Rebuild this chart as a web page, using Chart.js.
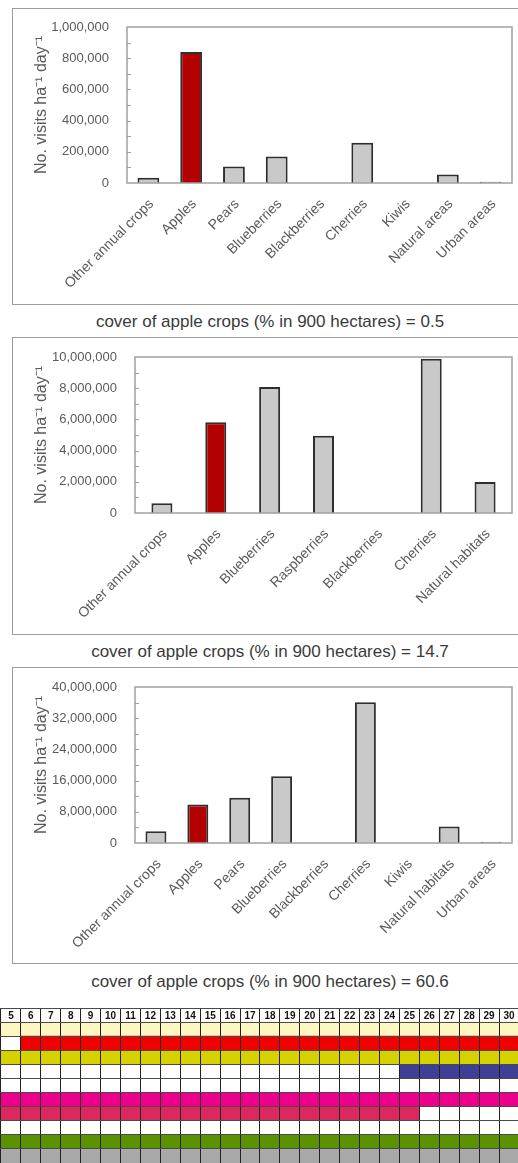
<!DOCTYPE html>
<html>
<head>
<meta charset="utf-8">
<script src="https://cdn.jsdelivr.net/npm/chart.js@4.4.1/dist/chart.umd.min.js"></script>
<style>
  html, body { margin: 0; padding: 0; background: #fff; }
  body { position: relative; width: 518px; height: 1163px; overflow: hidden; font-family: "Liberation Sans", Arial, sans-serif; }
  .box { position: absolute; left: 12px; width: 530px; border: 1.5px solid #9c9c9c; box-sizing: border-box; }
  .cap { position: absolute; left: 12px; width: 516px; text-align: center; font-size: 17px; line-height: 20px; color: #3a3a3a; }
  canvas { position: absolute; }
</style>
</head>
<body>

<div class="box" style="top:8px; height:297px;"></div>
<canvas id="c05" width="506" height="295" style="left:12px; top:9px;"></canvas>
<div class="cap" style="top:312px;">cover of apple crops (% in 900 hectares) = 0.5</div>

<div class="box" style="top:337px; height:298px;"></div>
<canvas id="c147" width="506" height="296" style="left:12px; top:338px;"></canvas>
<div class="cap" style="top:642px;">cover of apple crops (% in 900 hectares) = 14.7</div>

<div class="box" style="top:667px; height:297px;"></div>
<canvas id="c606" width="506" height="295" style="left:12px; top:668px;"></canvas>
<div class="cap" style="top:972px;">cover of apple crops (% in 900 hectares) = 60.6</div>

<canvas id="days" width="518" height="155" style="left:0; top:1008px;"></canvas>

<script>
const FONT = '"Liberation Sans", Arial, sans-serif';

// visits per land-use class, one set per apple cover level
const cats05 = ['Other annual crops', 'Apples', 'Pears', 'Blueberries', 'Blackberries', 'Cherries', 'Kiwis', 'Natural areas', 'Urban areas'];
const visits05 = [34000, 840000, 105000, 170000, 0, 258000, 0, 55000, 8000];
const yTicks05 = [0, 200000, 400000, 600000, 800000, 1000000];

const cats147 = ['Other annual crops', 'Apples', 'Blueberries', 'Raspberries', 'Blackberries', 'Cherries', 'Natural habitats'];
const visits147 = [620000, 5820000, 8070000, 4950000, 0, 9890000, 1980000];
const yTicks147 = [0, 2000000, 4000000, 6000000, 8000000, 10000000];

const cats606 = ['Other annual crops', 'Apples', 'Pears', 'Blueberries', 'Blackberries', 'Cherries', 'Kiwis', 'Natural habitats', 'Urban areas'];
const visits606 = [3000000, 9900000, 11600000, 17100000, 0, 36100000, 0, 4200000, 260000];
const yTicks606 = [0, 8000000, 16000000, 24000000, 32000000, 40000000];

// day calendar rows (first / last day of each coloured band)
const dayCols = [5, 6, 7, 8, 9, 10, 11, 12, 13, 14, 15, 16, 17, 18, 19, 20, 21, 22, 23, 24, 25, 26, 27, 28, 29, 30];
const rowIds = ['head', 'r1', 'r2', 'r3', 'r4', 'r5', 'r6', 'r7', 'r8', 'r9', 'r10'];
const rowFirstDay = [null, 1, 6, 1, 25, null, 1, 1, null, 1, 1];
const rowLastDay = [null, 31, 31, 31, 31, null, 31, 25, null, 31, 31];
const rowColors = ['#fff', '#fdf8c2', '#f00000', '#d6d200', '#3f3f95', '#fff', '#ec008c', '#dc2860', '#fff', '#5b9200', '#a9a9a9'];

// grey frame round the plot area plus small inward ticks on the value axis
const plotFrame = {
  id: 'plotFrame',
  afterDatasetsDraw(chart) {
    const { ctx, chartArea: a, scales: { y } } = chart;
    ctx.save();
    ctx.strokeStyle = '#a0a0a0';
    ctx.lineWidth = 1.5;
    ctx.strokeRect(a.left, a.top, a.right - a.left, a.bottom - a.top);
    const half = (y.ticks[1].value - y.ticks[0].value) / 2;
    ctx.lineWidth = 1;
    for (let v = half; v < y.max; v += half) {
      const py = Math.round(y.getPixelForValue(v)) + 0.5;
      ctx.beginPath();
      ctx.moveTo(a.left, py);
      ctx.lineTo(a.left + 4, py);
      ctx.stroke();
    }
    ctx.restore();
  }
};

function makeBarChart(id, labels, values, yTicks, barPct, axisW, xAxisH, padTop) {
  new Chart(document.getElementById(id), {
    type: 'bar',
    data: {
      labels: labels,
      datasets: [{
        data: values,
        backgroundColor: labels.map(l => l === 'Apples' ? '#b30000' : '#c9c9c9'),
        borderColor: '#2e2e2e',
        borderWidth: 2,
        barPercentage: barPct,
        categoryPercentage: 1
      }]
    },
    options: {
      responsive: false,
      animation: false,
      layout: { padding: { top: padTop, right: 6, left: 0, bottom: 0 } },
      plugins: { legend: { display: false }, tooltip: { enabled: false } },
      scales: {
        x: {
          grid: { display: false },
          border: { display: false },
          ticks: { color: '#5a5a5a', font: { size: 14, family: FONT }, minRotation: 45, maxRotation: 45, autoSkip: false, padding: 5, labelOffset: 3 },
          afterFit: s => { s.height = xAxisH; }
        },
        y: {
          min: yTicks[0],
          max: yTicks[yTicks.length - 1],
          afterBuildTicks: s => { s.ticks = yTicks.map(v => ({ value: v })); },
          grid: { display: false },
          border: { display: false },
          ticks: { color: '#5a5a5a', font: { size: 13, family: FONT }, padding: 10, callback: v => v.toLocaleString('en-US') },
          title: { display: true, text: 'No. visits ha\u207B\u00B9 day\u207B\u00B9', color: '#5a5a5a', font: { size: 16, family: FONT }, padding: { top: 20, bottom: 0 } },
          afterFit: s => { s.width = axisW; }
        }
      }
    },
    plugins: [plotFrame]
  });
}

makeBarChart('c05', cats05, visits05, yTicks05, 0.51, 115, 121, 18);
makeBarChart('c147', cats147, visits147, yTicks147, 0.39, 123, 121, 19);
makeBarChart('c606', cats606, visits606, yTicks606, 0.5, 123, 120, 19);

// day numbers written into the header row
const dayHeader = {
  id: 'dayHeader',
  afterDraw(chart) {
    const { ctx, scales: { x, y } } = chart;
    ctx.save();
    ctx.font = 'bold 10px ' + FONT;
    ctx.fillStyle = '#111';
    ctx.textAlign = 'center';
    ctx.textBaseline = 'middle';
    const py = y.getPixelForValue(0) + 1;
    dayCols.forEach(d => ctx.fillText(String(d), x.getPixelForValue(d), py));
    ctx.restore();
  }
};

new Chart(document.getElementById('days'), {
  type: 'bar',
  data: {
    labels: rowIds,
    datasets: [{
      data: rowIds.map((_, i) => rowFirstDay[i] == null ? null : [rowFirstDay[i] - 0.5, rowLastDay[i] + 0.5]),
      backgroundColor: rowColors,
      borderWidth: 0,
      barPercentage: 1,
      categoryPercentage: 1
    }]
  },
  options: {
    indexAxis: 'y',
    responsive: false,
    animation: false,
    layout: { padding: 0 },
    plugins: { legend: { display: false }, tooltip: { enabled: false } },
    scales: {
      x: {
        type: 'linear',
        position: 'top',
        min: 4.45,
        max: 30.45,
        afterBuildTicks: s => { s.ticks = dayCols.map(v => ({ value: v })); },
        ticks: { display: false },
        // grid above the coloured bands
        grid: { z: 1, offset: true, drawTicks: false, color: '#222', lineWidth: 1 },
        border: { display: false },
        afterFit: s => { s.height = 0; }
      },
      y: {
        ticks: { display: false },
        grid: { z: 1, offset: true, drawTicks: false, color: '#4a4a4a', lineWidth: 1 },
        border: { display: false },
        afterFit: s => { s.width = 0; }
      }
    }
  },
  plugins: [dayHeader]
});
</script>
</body>
</html>
